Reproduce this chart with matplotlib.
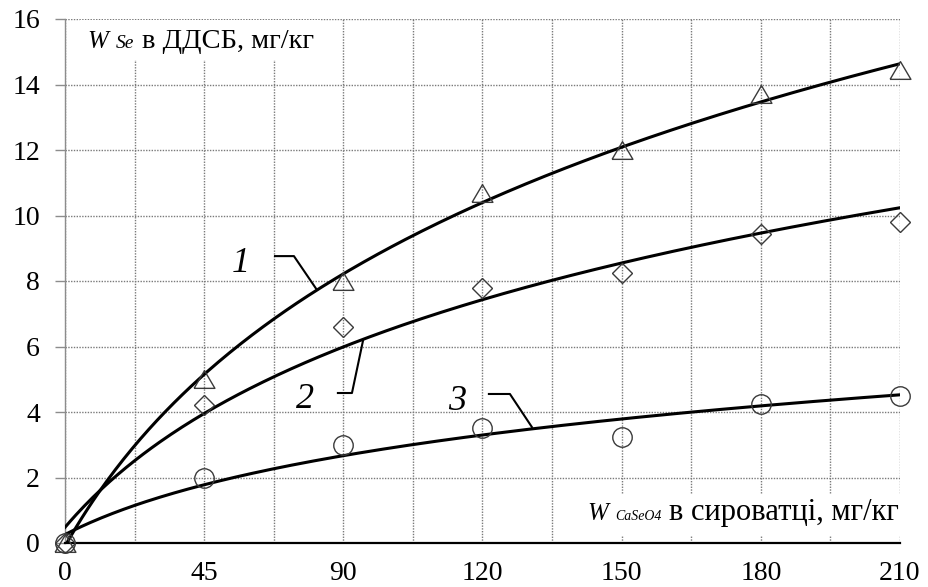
import numpy as np
import matplotlib
matplotlib.use("Agg")
import matplotlib.pyplot as plt
from matplotlib.patches import Rectangle

plt.rcParams['font.family'] = ['Liberation Serif', 'DejaVu Serif']

# CaSeO4 in whey, mg/kg (category axis, equally spaced)
doses = ['0', '45', '90', '120', '150', '180', '210']
se_curve1 = [0, 5.0, 8.0, 10.7, 12.0, 13.7, 14.45]   # triangles
se_curve2 = [0, 4.2, 6.6, 7.8, 8.25, 9.45, 9.8]      # diamonds
se_curve3 = [0, 2.0, 3.0, 3.5, 3.25, 4.25, 4.5]      # circles

pos = np.arange(len(doses))

fig = plt.figure(figsize=(9.29, 5.87), dpi=100)
ax = fig.add_axes([65 / 929, 1 - 543 / 587, 835 / 929, 524 / 587])

ax.set_xlim(0, len(doses) - 1)
ax.set_ylim(0, 16)
ax.set_xticks(pos)
ax.set_xticklabels(doses)
ax.set_xticks(np.arange(0, len(doses) - 0.5, 0.5), minor=True)
ax.set_yticks(np.arange(0, 17, 2))

ax.set_axisbelow(True)
ax.grid(True, which='both', axis='x', linestyle=(0, (1, 1)), color='#7a7a7a', lw=1)
ax.grid(True, which='major', axis='y', linestyle=(0, (1, 1)), color='#7a7a7a', lw=1)

for s in ['top', 'right']:
    ax.spines[s].set_visible(False)
ax.spines['left'].set_color('#8c8c8c')
ax.spines['left'].set_linewidth(1)
ax.spines['bottom'].set_color('black')
ax.spines['bottom'].set_linewidth(1.6)

ax.tick_params(axis='x', which='both', length=0, pad=13, labelsize=20)
ax.tick_params(axis='y', length=7, width=1, color='#8c8c8c', pad=11, labelsize=20)

# logarithmic trend lines (Excel style, x = 1..n)
xs = np.linspace(0, len(doses) - 1, 300)
for vals in [se_curve1, se_curve2, se_curve3]:
    a, b = np.polyfit(np.log(pos + 1), vals, 1)
    ax.plot(xs, a * np.log(xs + 1) + b, color='black', lw=2.2, zorder=3)

tri = [(-1, -0.85), (1, -0.85), (0, 0.85), (-1, -0.85)]
mk = dict(linestyle='none', mfc='none', mec='#3a3a3a', mew=1.0, clip_on=False, zorder=4)
ax.plot(pos, se_curve3, marker='o', ms=14, **mk)
ax.plot(pos, se_curve2, marker='D', ms=9.8, **mk)
ax.plot(pos, se_curve1, marker=tri, ms=15, **mk)

# curve numbers with leader lines
labels = [('1', 1.264, 8.52, [1.509, 1.645, 1.810], [8.76, 8.76, 7.73]),
          ('2', 1.724, 4.37, [1.961, 2.062, 2.141], [4.58, 4.58, 6.17]),
          ('3', 2.816, 4.31, [3.046, 3.197, 3.355], [4.55, 4.55, 3.54])]
for txt, tx, ty, lx, ly in labels:
    ax.text(tx, ty, txt, fontsize=26, style='italic', ha='center', va='center', zorder=5)
    ax.plot(lx, ly, color='black', lw=1.5, zorder=5)

# axis captions inside the plot area
def px(x, y):
    return (x - 65) / 835, (543 - y) / 524

ax.add_patch(Rectangle(px(80, 60), 240 / 835, 40 / 524, transform=ax.transAxes,
                       facecolor='white', edgecolor='none', zorder=1))
ax.text(*px(87, 48), 'W', transform=ax.transAxes, fontsize=18, style='italic', va='baseline', zorder=5)
ax.text(*px(116, 48), 'Se', transform=ax.transAxes, fontsize=14, style='italic', va='baseline', zorder=5)
ax.text(*px(142, 48), 'в ДДСБ, мг/кг', transform=ax.transAxes, fontsize=20.5, va='baseline', zorder=5)

ax.add_patch(Rectangle(px(580, 536), 322 / 835, 42 / 524, transform=ax.transAxes,
                       facecolor='white', edgecolor='none', zorder=1))
ax.text(*px(587, 520), 'W', transform=ax.transAxes, fontsize=18, style='italic', va='baseline', zorder=5)
ax.text(*px(615, 520), 'CaSeO4', transform=ax.transAxes, fontsize=10, style='italic', va='baseline', zorder=5)
ax.text(*px(899, 520), 'в сироватці, мг/кг', transform=ax.transAxes, fontsize=22, ha='right', va='baseline', zorder=5)

fig.savefig('out.png', dpi=100)
